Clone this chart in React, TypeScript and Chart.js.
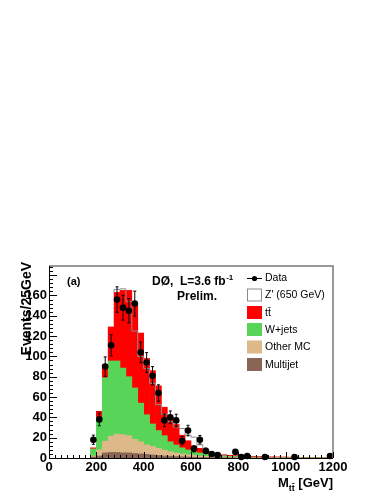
import React, { useEffect, useRef } from 'react';
import { Chart, registerables } from 'chart.js';

Chart.register(...registerables);

// ---- data (25 GeV bins, lower edges) ----
const binLow = [
  175, 200, 225, 250, 275, 300, 325, 350, 375, 400, 425, 450, 475, 500, 525, 550, 575, 600, 625, 650,
  675, 700, 725, 750, 775, 800, 825, 850, 875, 900, 925, 950, 975, 1000, 1025, 1050, 1075, 1100, 1125, 1150, 1175,
];
const multijet = [
  1, 2, 5, 5.5, 5.5, 5, 5, 4.5, 4, 3.5, 3, 2.5, 2, 1.8, 1.5, 1.2, 1, 0.8, 0.6, 0.5,
  0.4, 0.3, 0.3, 0.2, 0.2, 0.2, 0.1, 0.1, 0.1, 0.1, 0.1, 0, 0, 0, 0, 0, 0, 0, 0, 0, 0,
];
const otherMC = [
  1, 6, 11.5, 16, 18, 18, 17, 14, 12, 9.5, 8.5, 7, 5.8, 4.4, 3.5, 2.8, 2.2, 1.8, 1.4, 1.1,
  0.9, 0.8, 0.6, 0.6, 0.5, 0.4, 0.4, 0.35, 0.3, 0.25, 0.2, 0.25, 0.2, 0.2, 0.15, 0.15, 0.1, 0.1, 0.1, 0.1, 0.1,
];
const wjets = [
  7, 32, 62.5, 74, 72, 65.5, 58, 50.5, 38, 29.6, 22, 17.5, 14.2, 9.8, 7.8, 6, 4.8, 3.4, 3, 2.4,
  1.7, 1.4, 1.1, 0.9, 0.8, 0.7, 0.6, 0.55, 0.5, 0.45, 0.4, 0.35, 0.3, 0.3, 0.25, 0.25, 0.2, 0.2, 0.2, 0.1, 0.1,
];
const ttbar = [
  1, 6, 13, 33.5, 67.5, 76.5, 85, 83, 69, 55.4, 52.5, 44, 28, 24, 20.2, 12.5, 9, 6, 4.5, 3,
  2, 1.5, 1.2, 1, 0.9, 0.8, 0.8, 0.7, 0.6, 0.5, 0.5, 0.5, 0.5, 0.4, 0.4, 0.3, 0.3, 0.2, 0.2, 0.2, 0.2,
];
const zprime = [
  0, 0, 0, 0, 0, 1, 1.5, 2, 2, 2, 2, 2.5, 2.5, 3, 3, 8, 12, 10.5, 11, 6,
  3, 1, 0.5, 0, 0, 0, 0, 0, 0, 0, 0, 0, 0, 0, 0, 0, 0, 0, 0, 0, 0,
];

const dataMass = [
  187.5, 212.5, 237.5, 262.5, 287.5, 312.5, 337.5, 362.5, 387.5, 412.5, 437.5, 462.5, 487.5, 512.5,
  537.5, 562.5, 587.5, 612.5, 637.5, 662.5, 687.5, 712.5, 787.5, 812.5, 837.5, 912.5, 1037.5, 1187.5,
];
const dataCounts = [
  18, 38, 90, 111, 156, 148, 145, 152, 104, 94, 81, 64, 37, 40,
  37, 17, 27, 9, 18, 7, 4, 3, 6, 1, 2, 1, 1, 2,
];
const dataErr = [
  4.5, 6.3, 9.5, 10.5, 12.5, 12.2, 12, 12.3, 10.2, 9.7, 9, 8, 6.1, 6.3,
  6.1, 4.1, 5.2, 3, 4.2, 2.6, 2, 1.7, 2.4, 1, 1.4, 1, 1, 1.4,
];

const seriesNames = ['Multijet', 'Other MC', 'W+jets', 'tt\u0304', "Z' (650 GeV)"];
const BIN = 25;

const FONT = "'Liberation Sans', Arial, Helvetica, sans-serif";
const RED = '#FF0000';
const GREEN = '#58D558';
const TAN = '#DDB888';
const BROWN = '#886655';
const GRAY = '#8C8C8C';

const binCenters = binLow.map((v) => v + BIN / 2);
const totals = binLow.map((_, i) => multijet[i] + otherMC[i] + wjets[i] + ttbar[i] + zprime[i]);
const outlinePts = [{ x: binLow[0], y: 0 }]
  .concat(binLow.map((x, i) => ({ x, y: totals[i] })))
  .concat([{ x: binLow[binLow.length - 1] + BIN, y: totals[totals.length - 1] }]);

const DATA_IDX = 6;

const decor = {
  id: 'decor',
  beforeDatasetDraw(chart: any, args: any) {
    if (args.index !== DATA_IDX) return;
    const { ctx } = chart;
    const xs = chart.scales.x;
    const ys = chart.scales.y;
    ctx.save();
    ctx.strokeStyle = '#000';
    ctx.lineWidth = 1;
    dataMass.forEach((m, i) => {
      const px = xs.getPixelForValue(m);
      const y1 = ys.getPixelForValue(dataCounts[i] - dataErr[i]);
      const y2 = ys.getPixelForValue(dataCounts[i] + dataErr[i]);
      ctx.beginPath();
      ctx.moveTo(px, y1);
      ctx.lineTo(px, y2);
      ctx.moveTo(px - 1.5, y1);
      ctx.lineTo(px + 1.5, y1);
      ctx.moveTo(px - 1.5, y2);
      ctx.lineTo(px + 1.5, y2);
      ctx.stroke();
    });
    ctx.restore();
  },
  afterDraw(chart: any) {
    const { ctx, chartArea } = chart;
    const { left, right, top, bottom } = chartArea;
    const xs = chart.scales.x;
    const ys = chart.scales.y;
    ctx.save();
    // frame
    ctx.lineWidth = 1.5;
    ctx.strokeStyle = '#777';
    ctx.beginPath();
    ctx.moveTo(left, top);
    ctx.lineTo(right, top);
    ctx.lineTo(right, bottom);
    ctx.stroke();
    ctx.lineWidth = 1;
    ctx.strokeStyle = '#000';
    ctx.beginPath();
    ctx.moveTo(left + 0.5, top);
    ctx.lineTo(left + 0.5, bottom + 0.5);
    ctx.lineTo(right, bottom + 0.5);
    ctx.stroke();
    // inner ticks
    ctx.beginPath();
    for (let v = 0; v <= ys.max; v += 4) {
      const py = Math.round(ys.getPixelForValue(v)) + 0.5;
      const len = v % 20 === 0 ? 8 : 4;
      ctx.moveTo(left, py);
      ctx.lineTo(left + len, py);
    }
    for (let v = 0; v <= xs.max; v += 25) {
      const px = Math.round(xs.getPixelForValue(v)) + 0.5;
      const len = v % 200 === 0 ? 6 : 3;
      ctx.moveTo(px, bottom);
      ctx.lineTo(px, bottom - len);
    }
    ctx.stroke();

    ctx.fillStyle = '#000';
    // y title
    ctx.save();
    ctx.translate(30.5, 262);
    ctx.rotate(-Math.PI / 2);
    ctx.textAlign = 'right';
    ctx.textBaseline = 'alphabetic';
    ctx.font = `bold 14px ${FONT}`;
    ctx.fillText('Events/25GeV', 0, 0);
    ctx.restore();

    // x title: M_{tt̄} [GeV]
    ctx.textBaseline = 'alphabetic';
    ctx.textAlign = 'left';
    const fBig = `bold 13px ${FONT}`;
    const fSub = `bold 9px ${FONT}`;
    ctx.font = fBig;
    const wM = ctx.measureText('M').width;
    const wG = ctx.measureText(' [GeV]').width;
    ctx.font = fSub;
    const sub = 'tt\u0304';
    const wS = ctx.measureText(sub).width;
    const x0 = right - (wM + wS + wG);
    ctx.font = fBig;
    ctx.fillText('M', x0, 487);
    ctx.font = fSub;
    ctx.fillText(sub, x0 + wM, 491);
    ctx.font = fBig;
    ctx.fillText(' [GeV]', x0 + wM + wS, 487);

    // annotations
    ctx.font = `bold 11px ${FONT}`;
    ctx.fillText('(a)', 67, 285);
    ctx.font = `bold 12px ${FONT}`;
    const lumi = 'D\u00D8,  L=3.6 fb';
    ctx.fillText(lumi, 152, 285);
    const wl = ctx.measureText(lumi).width;
    ctx.font = `bold 8px ${FONT}`;
    ctx.fillText('-1', 152 + wl + 0.5, 280);
    ctx.font = `bold 12px ${FONT}`;
    ctx.fillText('Prelim.', 177, 300);

    // legend
    const rows = [
      { label: 'Data', kind: 'data' },
      { label: seriesNames[4], fill: '#FFFFFF', stroke: GRAY },
      { label: seriesNames[3], fill: RED },
      { label: seriesNames[2], fill: GREEN },
      { label: seriesNames[1], fill: TAN },
      { label: seriesNames[0], fill: BROWN },
    ];
    const rowY = [278, 295, 312.5, 329.5, 347, 364.5];
    const bx = 247;
    const bw = 15;
    const bh = 13;
    ctx.font = `10.5px ${FONT}`;
    rows.forEach((r: any, i) => {
      const cy = rowY[i];
      if (r.kind === 'data') {
        ctx.strokeStyle = '#000';
        ctx.lineWidth = 1;
        ctx.beginPath();
        ctx.moveTo(bx, cy + 0.5);
        ctx.lineTo(bx + bw, cy + 0.5);
        ctx.stroke();
        ctx.beginPath();
        ctx.arc(bx + bw / 2, cy + 0.5, 2.6, 0, Math.PI * 2);
        ctx.fillStyle = '#000';
        ctx.fill();
      } else {
        ctx.fillStyle = r.fill;
        ctx.fillRect(bx, cy - bh / 2, bw, bh);
        if (r.stroke) {
          ctx.strokeStyle = r.stroke;
          ctx.lineWidth = 1;
          ctx.strokeRect(bx + 0.5, cy - bh / 2 + 0.5, bw - 1, bh - 1);
        }
      }
      ctx.fillStyle = '#000';
      ctx.textBaseline = 'middle';
      ctx.fillText(r.label, 265, cy + 0.5);
    });
    ctx.restore();
  },
};

export default function App() {
  const ref = useRef<HTMLCanvasElement>(null);
  useEffect(() => {
    const barBase = {
      type: 'bar' as const,
      barPercentage: 1,
      categoryPercentage: 1,
      borderWidth: 0,
      stack: 'mc',
      order: 0,
    };
    const mk = (arr: number[]) => binCenters.map((x, i) => ({ x, y: arr[i] }));
    const chart = new Chart(ref.current as HTMLCanvasElement, {
      type: 'bar',
      data: {
        datasets: [
          { ...barBase, label: seriesNames[0], data: mk(multijet), backgroundColor: BROWN },
          { ...barBase, label: seriesNames[1], data: mk(otherMC), backgroundColor: TAN },
          { ...barBase, label: seriesNames[2], data: mk(wjets), backgroundColor: GREEN },
          { ...barBase, label: seriesNames[3], data: mk(ttbar), backgroundColor: RED },
          { ...barBase, label: seriesNames[4], data: mk(zprime), backgroundColor: '#FFFFFF' },
          {
            type: 'line',
            label: 'outline',
            data: outlinePts,
            stepped: 'after',
            borderColor: GRAY,
            borderWidth: 1,
            pointRadius: 0,
            fill: false,
            stack: 'outline',
            order: -1,
            segment: {
              borderColor: (c: any) => {
                const i = c.p0DataIndex;
                const a = zprime[i - 1] || 0;
                const b = zprime[i] || 0;
                return a > 0 || b > 0 ? GRAY : 'rgba(0,0,0,0)';
              },
            },
          } as any,
          {
            type: 'line',
            label: 'Data',
            data: dataMass.map((x, i) => ({ x, y: dataCounts[i] })),
            showLine: false,
            pointRadius: 3.3,
            pointBackgroundColor: '#000',
            pointBorderWidth: 0,
            stack: 'data',
            order: -2,
            clip: false,
          } as any,
        ],
      },
      options: {
        animation: false,
        responsive: true,
        maintainAspectRatio: false,
        events: [],
        layout: { padding: { top: 266, right: 49, bottom: 0, left: 0 } },
        plugins: { legend: { display: false }, tooltip: { enabled: false } },
        scales: {
          x: {
            type: 'linear',
            min: 0,
            max: 1200,
            stacked: true,
            offset: false,
            grid: { display: false, drawTicks: false },
            border: { display: false },
            ticks: {
              stepSize: 200,
              padding: 2,
              color: '#000',
              maxRotation: 0,
              callback: (v: any) => String(v),
              font: { family: FONT, size: 13, weight: 'bold' },
            },
            afterFit: (s: any) => {
              s.height = 36;
            },
          },
          y: {
            type: 'linear',
            min: 0,
            max: 189,
            stacked: true,
            grid: { display: false, drawTicks: false },
            border: { display: false },
            ticks: {
              stepSize: 20,
              padding: 2,
              color: '#000',
              callback: (v: any) => String(v),
              font: { family: FONT, size: 13, weight: 'bold' },
            },
            afterBuildTicks: (s: any) => {
              s.ticks = s.ticks.filter((t: any) => t.value % 20 === 0);
            },
            afterFit: (s: any) => {
              s.width = 49;
            },
          },
        } as any,
      },
      plugins: [decor],
    } as any);
    return () => chart.destroy();
  }, []);
  return (
    <div style={{ position: 'absolute', left: 0, top: 0, width: 382, height: 494, background: '#fff' }}>
      <canvas ref={ref} />
    </div>
  );
}
